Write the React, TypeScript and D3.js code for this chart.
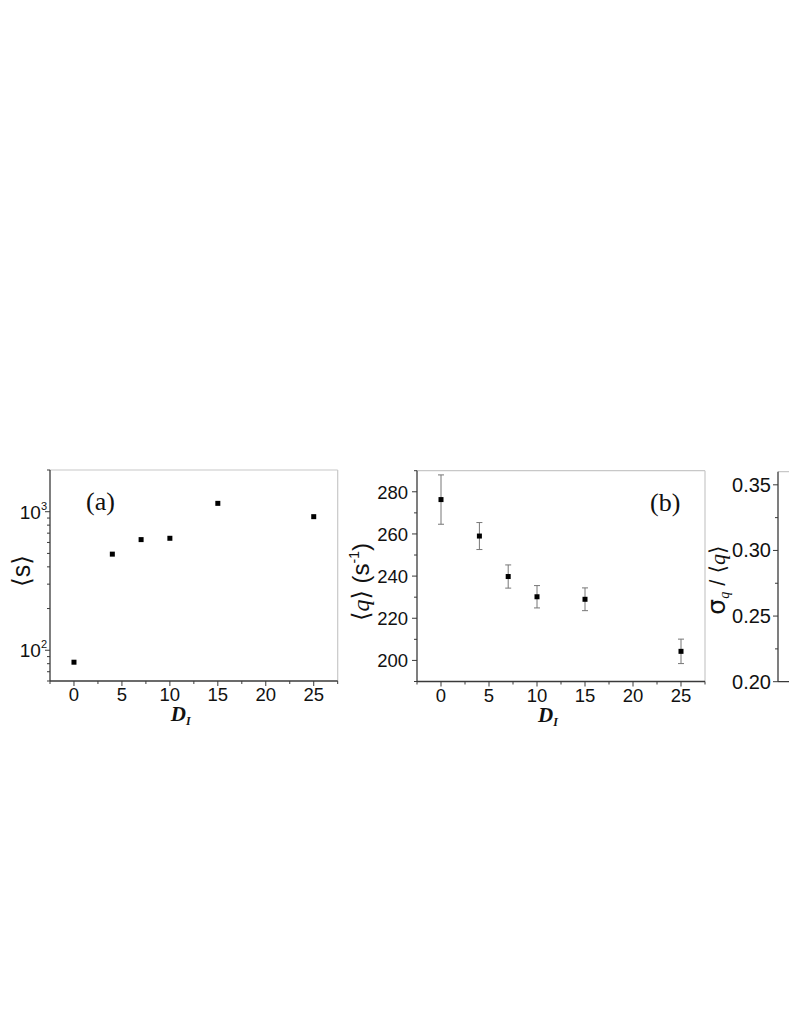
import React from 'react';
import * as d3 from 'd3';

// ---- data ----
const dI = [0, 4, 7, 10, 15, 25];
const sMean = [82, 494, 629, 643, 1149, 921];
const qMean = [276.3, 259.0, 239.8, 230.2, 229.0, 204.3];
const qErr = [11.7, 6.4, 5.5, 5.3, 5.4, 5.8];
const xTicks = [0, 5, 10, 15, 20, 25];
const xMinor = [-2.5, 2.5, 7.5, 12.5, 17.5, 22.5, 27.5];
const sTicks = [100, 1000];
const sTickExp = ['2', '3'];
const qTicks = [200, 220, 240, 260, 280];
const qMinor = [190, 210, 230, 250, 270, 290];
const rTicks = [0.2, 0.25, 0.3, 0.35];
const rMinor = [0.225, 0.275, 0.325];

const AX = '#3a3a3a';
const BORDER = '#c8c8c8';
const SANS = '"Liberation Sans", Arial, sans-serif';
const SERIF = '"Liberation Serif", "Times New Roman", serif';

function XAxis({ x, y0, left, right }: any) {
  return (
    <g>
      <line x1={left} x2={right} y1={y0} y2={y0} stroke={AX} strokeWidth={1.3} />
      {xMinor.map((t) => (
        <line key={'m' + t} x1={x(t)} x2={x(t)} y1={y0} y2={y0 + 3} stroke={AX} strokeWidth={1} />
      ))}
      {xTicks.map((t) => (
        <g key={t}>
          <line x1={x(t)} x2={x(t)} y1={y0} y2={y0 + 5} stroke={AX} strokeWidth={1} />
          <text x={x(t)} y={y0 + 20} textAnchor="middle" fontFamily={SANS} fontSize={18.5} fill="#111">
            {t}
          </text>
        </g>
      ))}
      <text x={(left + right) / 2 - 23} y={y0 + 40} fontFamily={SERIF} fontSize={21} fontWeight="bold" fontStyle="italic" fill="#111">
        D<tspan fontSize={12} dy={4}>I</tspan>
      </text>
    </g>
  );
}

export default function App() {
  // Panel (a)
  const aL = 50, aR = 337.7, aT = 470, aB = 681;
  const xa = d3.scaleLinear().domain([-2.5, 27.5]).range([aL, aR]);
  const ya = d3.scaleLog().domain([60, 2000]).range([aB, aT]);
  const aMinor: number[] = [];
  [10, 100, 1000].forEach((d) => {
    for (let k = 2; k <= 9; k++) {
      const v = d * k;
      if (v >= 60 && v <= 2000) aMinor.push(v);
    }
  });

  // Panel (b)
  const bL = 417, bR = 705, bT = 470.7, bB = 681.5;
  const xb = d3.scaleLinear().domain([-2.5, 27.5]).range([bL, bR]);
  const yb = d3.scaleLinear().domain([190, 290]).range([bB, bT]);

  // Panel (c)
  const cL = 778, cR = 1066, cT = 471.7, cB = 681.7;
  const yc = d3.scaleLinear().domain([0.2, 0.36]).range([cB, cT]);

  const ms = 5;

  return (
    <svg width={789} height={1021} style={{ position: 'absolute', left: 0, top: 0, background: '#fff' }}>
      <rect width={789} height={1021} fill="#fff" />
      {/* ---------- Panel (a) ---------- */}
      <line x1={aL} x2={aR} y1={aT} y2={aT} stroke={BORDER} strokeWidth={1.2} />
      <line x1={aR} x2={aR} y1={aT} y2={aB} stroke={BORDER} strokeWidth={1.2} />
      <line x1={aL} x2={aL} y1={aT} y2={aB} stroke={AX} strokeWidth={1.3} />
      {aMinor.map((v) => (
        <line key={v} x1={aL - 3} x2={aL} y1={ya(v)} y2={ya(v)} stroke={AX} strokeWidth={1} />
      ))}
      {sTicks.map((v, i) => (
        <g key={v}>
          <line x1={aL - 5} x2={aL} y1={ya(v)} y2={ya(v)} stroke={AX} strokeWidth={1} />
          <text x={aL - 3} y={ya(v) + 7} textAnchor="end" fontFamily={SANS} fontSize={19} fill="#111">
            10<tspan fontSize={11} dy={-9}>{sTickExp[i]}</tspan>
          </text>
        </g>
      ))}
      <XAxis x={xa} y0={aB} left={aL} right={aR} />
      <text transform={`translate(30,571) rotate(-90)`} textAnchor="middle" fontFamily={SANS} fontSize={25} fill="#111">
        <tspan fontFamily="DejaVu Sans">⟨</tspan>s<tspan fontFamily="DejaVu Sans">⟩</tspan>
      </text>
      <text x={86} y={510} fontFamily={SERIF} fontSize={26} fill="#111">(a)</text>
      {dI.map((d, i) => (
        <rect key={d} x={xa(d) - ms / 2} y={ya(sMean[i]) - ms / 2} width={ms} height={ms} fill="#000" />
      ))}

      {/* ---------- Panel (b) ---------- */}
      <line x1={bL} x2={bR} y1={bT} y2={bT} stroke={BORDER} strokeWidth={1.2} />
      <line x1={bR} x2={bR} y1={bT} y2={bB} stroke={BORDER} strokeWidth={1.2} />
      <line x1={bL} x2={bL} y1={bT} y2={bB} stroke={AX} strokeWidth={1.3} />
      {qMinor.map((v) => (
        <line key={v} x1={bL - 3} x2={bL} y1={yb(v)} y2={yb(v)} stroke={AX} strokeWidth={1} />
      ))}
      {qTicks.map((v) => (
        <g key={v}>
          <line x1={bL - 5} x2={bL} y1={yb(v)} y2={yb(v)} stroke={AX} strokeWidth={1} />
          <text x={bL - 9} y={yb(v) + 7} textAnchor="end" fontFamily={SANS} fontSize={18.5} fill="#111">
            {v}
          </text>
        </g>
      ))}
      <XAxis x={xb} y0={bB} left={bL} right={bR} />
      <text transform={`translate(369,582) rotate(-90)`} textAnchor="middle" fontFamily={SANS} fontSize={24} fill="#111">
        <tspan fontFamily="DejaVu Sans">⟨</tspan><tspan fontFamily={SERIF} fontStyle="italic">q</tspan><tspan fontFamily="DejaVu Sans">⟩</tspan> (s<tspan fontSize={14} dy={-10}>-1</tspan><tspan dy={10}>)</tspan>
      </text>
      <text x={650} y={511} fontFamily={SERIF} fontSize={26} fill="#111">(b)</text>
      {dI.map((d, i) => (
        <g key={d}>
          <line x1={xb(d)} x2={xb(d)} y1={yb(qMean[i] + qErr[i])} y2={yb(qMean[i] - qErr[i])} stroke="#777" strokeWidth={1} />
          <line x1={xb(d) - 3} x2={xb(d) + 3} y1={yb(qMean[i] + qErr[i])} y2={yb(qMean[i] + qErr[i])} stroke="#777" strokeWidth={1} />
          <line x1={xb(d) - 3} x2={xb(d) + 3} y1={yb(qMean[i] - qErr[i])} y2={yb(qMean[i] - qErr[i])} stroke="#777" strokeWidth={1} />
          <rect x={xb(d) - ms / 2} y={yb(qMean[i]) - ms / 2} width={ms} height={ms} fill="#000" />
        </g>
      ))}

      {/* ---------- Panel (c) ---------- */}
      <line x1={cL} x2={cR} y1={cT} y2={cT} stroke={BORDER} strokeWidth={1.2} />
      <line x1={cL} x2={cR} y1={cB} y2={cB} stroke={AX} strokeWidth={1.3} />
      <line x1={cL} x2={cL} y1={cT} y2={cB} stroke={AX} strokeWidth={1.3} />
      {rMinor.map((v) => (
        <line key={v} x1={cL - 3} x2={cL} y1={yc(v)} y2={yc(v)} stroke={AX} strokeWidth={1} />
      ))}
      {rTicks.map((v) => (
        <g key={v}>
          <line x1={cL - 5} x2={cL} y1={yc(v)} y2={yc(v)} stroke={AX} strokeWidth={1} />
          <text x={cL - 7} y={yc(v) + 7} textAnchor="end" fontFamily={SANS} fontSize={20} fill="#111">
            {v.toFixed(2)}
          </text>
        </g>
      ))}
      <text transform={`translate(725,580) rotate(-90)`} textAnchor="middle" fontFamily={SANS} fontSize={22} fill="#111">
        <tspan fontFamily="DejaVu Sans" fontSize={25}>σ</tspan><tspan fontFamily={SERIF} fontStyle="italic" fontSize={14} dy={4}>q</tspan><tspan dy={-4}> / </tspan><tspan fontFamily="DejaVu Sans">⟨</tspan><tspan fontFamily={SERIF} fontStyle="italic">q</tspan><tspan fontFamily="DejaVu Sans">⟩</tspan>
      </text>
    </svg>
  );
}
